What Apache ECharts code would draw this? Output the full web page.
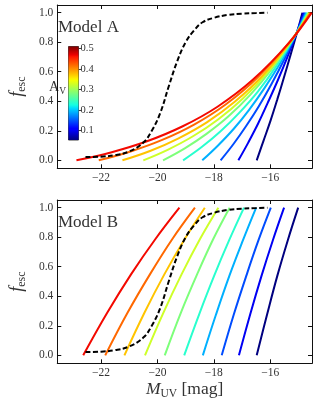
<!DOCTYPE html>
<html><head><meta charset="utf-8">
<script src="https://cdn.jsdelivr.net/npm/echarts@6/dist/echarts.min.js"></script>
<style>html,body{margin:0;padding:0;background:#fff}#c{width:318px;height:403px}</style>
</head><body><div id="c"></div><script>
// ---- data ----
const avValues = [0.05, 0.10, 0.15, 0.20, 0.25, 0.30, 0.35, 0.40, 0.45, 0.50];

// Model A: [M_UV, f_esc]
const modelA_av005 = [[-16.48,0],[-16.24,0.132],[-15.99,0.269],[-15.75,0.413],[-15.51,0.564],[-15.27,0.721],[-15.02,0.886],[-14.86,1.0]];
const modelA_av010 = [[-17.13,0],[-16.78,0.120],[-16.43,0.249],[-16.09,0.389],[-15.74,0.539],[-15.39,0.701],[-15.04,0.876],[-14.81,1.0]];
const modelA_av015 = [[-17.76,0],[-17.31,0.109],[-16.86,0.231],[-16.41,0.365],[-15.96,0.515],[-15.51,0.681],[-15.06,0.866],[-14.76,1.0]];
const modelA_av020 = [[-18.41,0],[-17.86,0.099],[-17.30,0.212],[-16.75,0.342],[-16.20,0.491],[-15.64,0.661],[-15.09,0.855],[-14.72,1.0]];
const modelA_av025 = [[-19.09,0],[-18.43,0.090],[-17.77,0.195],[-17.11,0.320],[-16.44,0.466],[-15.78,0.640],[-15.12,0.844],[-14.68,1.0]];
const modelA_av030 = [[-19.80,0],[-19.03,0.081],[-18.26,0.179],[-17.48,0.298],[-16.71,0.443],[-15.94,0.619],[-15.17,0.832],[-14.65,1.0]];
const modelA_av035 = [[-20.50,0],[-19.62,0.073],[-18.74,0.163],[-17.85,0.277],[-16.97,0.419],[-16.09,0.598],[-15.21,0.821],[-14.62,1.0]];
const modelA_av040 = [[-21.24,0],[-20.24,0.065],[-19.25,0.149],[-18.25,0.257],[-17.26,0.396],[-16.26,0.576],[-15.26,0.809],[-14.60,1.0]];
const modelA_av045 = [[-22.08,0],[-20.95,0.060],[-19.83,0.138],[-18.70,0.242],[-17.57,0.380],[-16.45,0.561],[-15.32,0.800],[-14.57,1.0]];
const modelA_av050 = [[-22.87,0],[-21.62,0.055],[-20.37,0.129],[-19.12,0.229],[-17.87,0.363],[-16.62,0.545],[-15.36,0.790],[-14.53,1.0]];

// Model B: [M_UV, f_esc]
const modelB_av005 = [[-16.48,0],[-16.11,0.278],[-15.75,0.538],[-15.38,0.778],[-15.01,1.0]];
const modelB_av010 = [[-17.11,0],[-16.71,0.278],[-16.31,0.538],[-15.91,0.778],[-15.51,1.0]];
const modelB_av015 = [[-17.72,0],[-17.29,0.278],[-16.85,0.538],[-16.42,0.778],[-15.98,1.0]];
const modelB_av020 = [[-18.39,0],[-17.92,0.278],[-17.45,0.538],[-16.97,0.778],[-16.50,1.0]];
const modelB_av025 = [[-19.05,0],[-18.52,0.278],[-17.99,0.538],[-17.46,0.778],[-16.93,1.0]];
const modelB_av030 = [[-19.74,0],[-19.17,0.288],[-18.59,0.550],[-18.02,0.788],[-17.44,1.0]];
const modelB_av035 = [[-20.44,0],[-19.79,0.288],[-19.14,0.550],[-18.49,0.788],[-17.84,1.0]];
const modelB_av040 = [[-21.17,0],[-20.46,0.288],[-19.75,0.550],[-19.03,0.788],[-18.32,1.0]];
const modelB_av045 = [[-21.85,0],[-21.06,0.288],[-20.26,0.550],[-19.47,0.788],[-18.67,1.0]];
const modelB_av050 = [[-22.63,0],[-21.78,0.288],[-20.93,0.550],[-20.07,0.788],[-19.22,1.0]];

// dashed reference curve (same in both panels)
const dashedCurve = [[-22.55,0.022],[-22.0,0.025],[-21.5,0.035],[-21.0,0.060],[-20.5,0.120],[-20.2,0.200],[-19.9,0.320],[-19.6,0.500],[-19.3,0.670],[-19.0,0.800],[-18.7,0.880],[-18.4,0.935],[-18.0,0.965],[-17.5,0.985],[-17.0,0.993],[-16.5,0.997],[-16.1,1.0]];

const xTicks = [-22, -20, -18, -16];
const yTicks = [0.0, 0.2, 0.4, 0.6, 0.8, 1.0];
const cbTicks = [0.1, 0.2, 0.3, 0.4, 0.5];
const cbRange = [0.052, 0.51];

// ---- styles ----
const lineColors = ['#000080','#0000f3','#004cff','#00b0ff','#29ffce','#7dff7a','#ceff29','#ffc400','#ff6800','#f30900'];
const jetStops = [[0,'#000080'],[0.11,'#0000ff'],[0.125,'#0000ff'],[0.34,'#00dbff'],[0.375,'#14ffe2'],[0.5,'#7bff7b'],[0.64,'#f5ff00'],[0.66,'#ffec00'],[0.89,'#ff1600'],[0.91,'#ed0000'],[1,'#800000']];
const FONT = 'Liberation Serif';
const TXT = '#333';
const FRAME = '#111';
const X_MIN = -23.55, X_MAX = -14.52, Y_MIN = -0.054, Y_MAX = 1.052;

const modelA = [modelA_av005, modelA_av010, modelA_av015, modelA_av020, modelA_av025, modelA_av030, modelA_av035, modelA_av040, modelA_av045, modelA_av050];
const modelB = [modelB_av005, modelB_av010, modelB_av015, modelB_av020, modelB_av025, modelB_av030, modelB_av035, modelB_av040, modelB_av045, modelB_av050];

function fmt(v, d) { const s = Math.abs(v).toFixed(d); return v < -1e-9 ? '\u2212' + s : s; }

function xAx(gi, pos, withLabels, name) {
  const ax = {
    type: 'value', gridIndex: gi, position: pos, min: X_MIN, max: X_MAX,
    axisLine: { show: true, onZero: false, lineStyle: { color: FRAME, width: 1 } },
    axisTick: { show: true, inside: true, length: 4, customValues: xTicks, lineStyle: { color: FRAME, width: 1 } },
    axisLabel: { show: withLabels, customValues: xTicks, formatter: v => fmt(v, 0), fontFamily: FONT, fontSize: 11.5, color: TXT, margin: 4 },
    splitLine: { show: false }
  };
  if (name) {
    ax.name = '{m|M}{s|UV}{n| [mag]}';
    ax.nameLocation = 'middle';
    ax.nameGap = 15;
    ax.nameTextStyle = { rich: {
      m: { fontFamily: FONT, fontStyle: 'italic', fontSize: 17.5, color: TXT, lineHeight: 22, verticalAlign: 'middle' },
      s: { fontFamily: FONT, fontSize: 11.5, color: TXT, lineHeight: 12, verticalAlign: 'bottom' },
      n: { fontFamily: FONT, fontSize: 17.5, color: TXT, lineHeight: 22, verticalAlign: 'middle' }
    } };
  }
  return ax;
}
function yAx(gi, pos, withLabels) {
  const ax = {
    type: 'value', gridIndex: gi, position: pos, min: Y_MIN, max: Y_MAX,
    axisLine: { show: true, onZero: false, lineStyle: { color: FRAME, width: 1 } },
    axisTick: { show: true, inside: true, length: 4, customValues: yTicks, lineStyle: { color: FRAME, width: 1 } },
    axisLabel: { show: withLabels, customValues: yTicks, formatter: v => fmt(v, 1), fontFamily: FONT, fontSize: 11.5, color: TXT, margin: 4 },
    splitLine: { show: false }
  };
  if (withLabels) {
    ax.name = '{f|f}{s|esc}';
    ax.nameLocation = 'middle';
    ax.nameRotate = 90;
    ax.nameGap = 21;
    ax.nameTextStyle = { rich: {
      f: { fontFamily: FONT, fontStyle: 'italic', fontSize: 18, color: TXT, lineHeight: 22, verticalAlign: 'middle' },
      s: { fontFamily: FONT, fontSize: 12, color: TXT, lineHeight: 12, verticalAlign: 'bottom' }
    } };
  }
  return ax;
}

const series = [];
function addPanel(sets, xi, yi) {
  sets.forEach((d, i) => {
    series.push({ type: 'line', xAxisIndex: xi, yAxisIndex: yi, data: d, name: 'Av ' + avValues[i],
      symbol: 'none', smooth: 0.4, clip: true, silent: true,
      lineStyle: { color: lineColors[i], width: 2 }, z: 2 + i });
  });
  series.push({ type: 'line', xAxisIndex: xi, yAxisIndex: yi, data: dashedCurve,
    symbol: 'none', smooth: 0.4, clip: true, silent: true,
    lineStyle: { color: '#000', width: 2, type: [5, 2.5] }, z: 20 });
}
addPanel(modelA, 0, 0);
addPanel(modelB, 2, 2);

// colour bar: base (invisible) + visible segment stacked
series.push({ type: 'bar', xAxisIndex: 4, yAxisIndex: 4, stack: 'cb', data: [cbRange[0]], barWidth: '100%',
  itemStyle: { color: 'transparent' }, silent: true });
series.push({ type: 'bar', xAxisIndex: 4, yAxisIndex: 4, stack: 'cb', data: [cbRange[1] - cbRange[0]], barWidth: '100%',
  itemStyle: { color: new echarts.graphic.LinearGradient(0, 1, 0, 0, jetStops.map(s => ({ offset: s[0], color: s[1] }))) }, silent: true });

const chart = echarts.init(document.getElementById('c'), null, { renderer: 'canvas' });
chart.setOption({
  animation: false,
  backgroundColor: '#fff',
  grid: [
    { left: 42, right: 6, top: 5, height: 163.3 },
    { left: 42, right: 6, top: 200, height: 163.3 },
    { left: 68.5, top: 46.5, width: 10, height: 93.5, show: true, borderColor: FRAME, borderWidth: 0.8, backgroundColor: 'transparent' }
  ],
  xAxis: [
    xAx(0, 'bottom', true, false), xAx(0, 'top', false, false),
    xAx(1, 'bottom', true, true), xAx(1, 'top', false, false),
    { type: 'category', gridIndex: 2, data: ['cb'], show: false, boundaryGap: true }
  ],
  yAxis: [
    yAx(0, 'left', true), yAx(0, 'right', false),
    yAx(1, 'left', true), yAx(1, 'right', false),
    { type: 'value', gridIndex: 2, position: 'right', min: cbRange[0], max: cbRange[1],
      axisLine: { show: false },
      axisTick: { show: true, inside: false, length: 3, customValues: cbTicks, lineStyle: { color: FRAME, width: 0.8 } },
      axisLabel: { customValues: cbTicks, formatter: v => v.toFixed(1), fontFamily: FONT, fontSize: 10.5, color: TXT, margin: 2 },
      splitLine: { show: false } }
  ],
  title: [
    { text: 'Model A', left: 58, top: 19, padding: 0, textStyle: { fontFamily: FONT, fontSize: 17, fontWeight: 'normal', color: TXT } },
    { text: 'Model B', left: 58, top: 214, padding: 0, textStyle: { fontFamily: FONT, fontSize: 17, fontWeight: 'normal', color: TXT } }
  ],
  graphic: [
    { type: 'text', right: 318 - 66, top: 80, silent: true,
      style: { text: '{a|A}{v|V}', rich: {
        a: { fontFamily: FONT, fontSize: 14, fill: TXT, lineHeight: 18, verticalAlign: 'middle' },
        v: { fontFamily: FONT, fontSize: 9.5, fill: TXT, lineHeight: 10, verticalAlign: 'bottom' } } } }
  ],
  series
});
</script></body></html>
